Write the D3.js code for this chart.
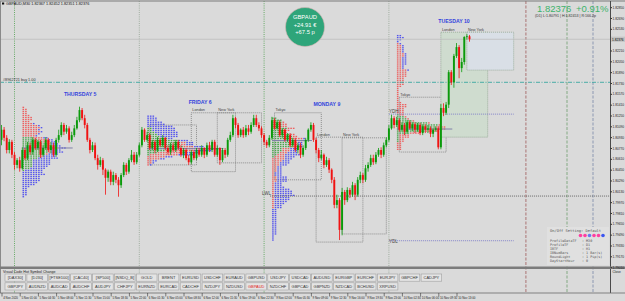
<!DOCTYPE html>
<html><head><meta charset="utf-8">
<script src="https://cdn.jsdelivr.net/npm/d3@7"></script>
<style>html,body{margin:0;padding:0;background:#dadada;overflow:hidden}svg{display:block;font-family:"Liberation Sans",Arial,sans-serif}</style>
</head><body><svg id="c" width="625" height="301"></svg>
<script>
// ---------- DATA ----------
const candles = [
[1.8089,1.8111,1.8081,1.8104],[1.8104,1.8108,1.8087,1.8092],[1.8092,1.8096,1.8069,1.8074],[1.8074,1.8090,1.8069,1.8086],[1.8086,1.8089,1.8062,1.8067],
[1.8067,1.8071,1.8045,1.8052],[1.8052,1.8062,1.8047,1.8059],[1.8059,1.8064,1.8042,1.8047],[1.8047,1.8078,1.8045,1.8074],[1.8074,1.8077,1.8059,1.8062],
[1.8062,1.8086,1.8059,1.8081],[1.8081,1.8085,1.8067,1.8071],[1.8071,1.8093,1.8067,1.8089],[1.8089,1.8092,1.8074,1.8077],[1.8077,1.8089,1.8074,1.8086],
[1.8086,1.8089,1.8062,1.8067],[1.8067,1.8081,1.8064,1.8077],[1.8077,1.8093,1.8074,1.8089],[1.8089,1.8092,1.8071,1.8074],[1.8074,1.8086,1.8069,1.8081],
[1.8081,1.8085,1.8064,1.8067],[1.8067,1.8092,1.8064,1.8089],[1.8089,1.8104,1.8085,1.8096],[1.8096,1.8115,1.8093,1.8111],[1.8111,1.8114,1.8096,1.8101],
[1.8101,1.8111,1.8098,1.8106],[1.8106,1.8109,1.8085,1.8089],[1.8089,1.8101,1.8086,1.8096],[1.8096,1.8111,1.8093,1.8106],[1.8106,1.8123,1.8104,1.8118],
[1.8118,1.8138,1.8115,1.8133],[1.8133,1.8136,1.8118,1.8121],[1.8121,1.8126,1.8106,1.8111],[1.8111,1.8114,1.8086,1.8089],[1.8089,1.8092,1.8069,1.8074],
[1.8074,1.8086,1.8071,1.8081],[1.8081,1.8085,1.8059,1.8062],[1.8062,1.8067,1.8045,1.8052],[1.8052,1.8064,1.8049,1.8059],[1.8059,1.8062,1.8037,1.8045],
[1.8045,1.8047,1.8008,1.8033],[1.8033,1.8045,1.8027,1.8042],[1.8042,1.8045,1.8022,1.8027],[1.8027,1.8042,1.8022,1.8037],[1.8037,1.8040,1.8025,1.8030],
[1.8030,1.8034,1.8005,1.8022],[1.8022,1.8040,1.8018,1.8037],[1.8037,1.8056,1.8034,1.8052],[1.8052,1.8055,1.8037,1.8042],[1.8042,1.8062,1.8039,1.8059],
[1.8059,1.8074,1.8056,1.8067],[1.8067,1.8071,1.8052,1.8056],[1.8056,1.8071,1.8053,1.8067],[1.8067,1.8085,1.8064,1.8081],[1.8081,1.8108,1.8078,1.8104],
[1.8104,1.8106,1.8086,1.8089],[1.8089,1.8101,1.8086,1.8096],[1.8096,1.8099,1.8074,1.8077],[1.8077,1.8089,1.8074,1.8086],[1.8086,1.8089,1.8069,1.8074],
[1.8074,1.8093,1.8071,1.8089],[1.8089,1.8092,1.8078,1.8081],[1.8081,1.8096,1.8078,1.8092],[1.8092,1.8093,1.8074,1.8077],[1.8077,1.8081,1.8067,1.8071],
[1.8071,1.8085,1.8067,1.8081],[1.8081,1.8085,1.8071,1.8074],[1.8074,1.8089,1.8071,1.8086],[1.8086,1.8089,1.8074,1.8077],[1.8077,1.8081,1.8064,1.8067],
[1.8067,1.8077,1.8062,1.8074],[1.8074,1.8077,1.8059,1.8062],[1.8062,1.8067,1.8052,1.8056],[1.8056,1.8074,1.8053,1.8071],[1.8071,1.8074,1.8059,1.8062],
[1.8062,1.8077,1.8059,1.8074],[1.8074,1.8077,1.8064,1.8067],[1.8067,1.8081,1.8064,1.8077],[1.8077,1.8078,1.8062,1.8067],[1.8067,1.8085,1.8064,1.8081],
[1.8081,1.8086,1.8071,1.8074],[1.8074,1.8089,1.8071,1.8086],[1.8086,1.8089,1.8064,1.8067],[1.8067,1.8081,1.8064,1.8077],[1.8077,1.8078,1.8052,1.8059],
[1.8059,1.8077,1.8056,1.8074],[1.8074,1.8077,1.8062,1.8067],[1.8067,1.8092,1.8064,1.8089],[1.8089,1.8101,1.8086,1.8096],[1.8096,1.8126,1.8093,1.8121],
[1.8121,1.8123,1.8106,1.8111],[1.8111,1.8114,1.8092,1.8096],[1.8096,1.8106,1.8093,1.8104],[1.8104,1.8108,1.8092,1.8096],[1.8096,1.8111,1.8093,1.8106],
[1.8106,1.8111,1.8096,1.8101],[1.8101,1.8115,1.8098,1.8111],[1.8111,1.8126,1.8108,1.8121],[1.8121,1.8126,1.8108,1.8111],[1.8111,1.8115,1.8102,1.8106],
[1.8106,1.8109,1.8092,1.8096],[1.8096,1.8099,1.8081,1.8086],[1.8086,1.8089,1.8077,1.8081],[1.8081,1.8096,1.8078,1.8092],[1.8092,1.8123,1.8089,1.8118],
[1.8118,1.8121,1.8104,1.8106],[1.8106,1.8118,1.8104,1.8115],[1.8115,1.8118,1.8093,1.8096],[1.8096,1.8106,1.8092,1.8104],[1.8104,1.8106,1.8086,1.8089],
[1.8089,1.8099,1.8086,1.8096],[1.8096,1.8099,1.8078,1.8081],[1.8081,1.8092,1.8078,1.8089],[1.8089,1.8092,1.8071,1.8074],[1.8074,1.8085,1.8069,1.8081],
[1.8081,1.8085,1.8062,1.8067],[1.8067,1.8081,1.8064,1.8077],[1.8077,1.8092,1.8074,1.8089],[1.8089,1.8106,1.8086,1.8104],[1.8104,1.8115,1.8101,1.8111],
[1.8111,1.8114,1.8086,1.8089],[1.8089,1.8092,1.8069,1.8074],[1.8074,1.8077,1.8056,1.8062],[1.8062,1.8074,1.8059,1.8067],[1.8067,1.8069,1.8047,1.8052],
[1.8052,1.8064,1.8049,1.8059],[1.8059,1.8062,1.8040,1.8045],[1.8045,1.8047,1.8025,1.8030],[1.8030,1.8034,1.7988,1.7993],[1.7993,1.8008,1.7988,1.8000],
[1.8000,1.8003,1.7941,1.7956],[1.7956,1.8018,1.7948,1.8012],[1.8012,1.8015,1.7993,1.8000],[1.8000,1.8019,1.7997,1.8015],[1.8015,1.8018,1.8003,1.8008],
[1.8008,1.8027,1.8005,1.8022],[1.8022,1.8025,1.8000,1.8008],[1.8008,1.8034,1.8005,1.8030],[1.8030,1.8042,1.8025,1.8037],[1.8037,1.8040,1.8025,1.8030],
[1.8030,1.8052,1.8027,1.8047],[1.8047,1.8056,1.8042,1.8052],[1.8052,1.8067,1.8049,1.8062],[1.8062,1.8067,1.8052,1.8056],[1.8056,1.8071,1.8053,1.8067],
[1.8067,1.8077,1.8064,1.8074],[1.8074,1.8078,1.8062,1.8067],[1.8067,1.8085,1.8064,1.8081],[1.8081,1.8093,1.8078,1.8089],[1.8089,1.8111,1.8086,1.8106],
[1.8106,1.8126,1.8104,1.8121],[1.8121,1.8124,1.8106,1.8111],[1.8111,1.8123,1.8108,1.8118],[1.8118,1.8121,1.8101,1.8104],[1.8104,1.8115,1.8101,1.8111],
[1.8111,1.8114,1.8096,1.8101],[1.8101,1.8118,1.8098,1.8115],[1.8115,1.8118,1.8104,1.8106],[1.8106,1.8115,1.8102,1.8112],[1.8112,1.8115,1.8099,1.8104],
[1.8104,1.8114,1.8101,1.8111],[1.8111,1.8114,1.8096,1.8099],[1.8099,1.8112,1.8096,1.8109],[1.8109,1.8112,1.8099,1.8104],[1.8104,1.8111,1.8099,1.8106],
[1.8106,1.8109,1.8093,1.8098],[1.8098,1.8106,1.8093,1.8104],[1.8104,1.8109,1.8101,1.8106],[1.8106,1.8109,1.8075,1.8078],[1.8078,1.8142,1.8075,1.8136],
[1.8136,1.8143,1.8124,1.8129],[1.8129,1.8145,1.8126,1.8141],[1.8141,1.8192,1.8136,1.8189],[1.8189,1.8192,1.8170,1.8174],[1.8174,1.8216,1.8166,1.8213],
[1.8213,1.8232,1.8210,1.8226],[1.8226,1.8229,1.8180,1.8195],[1.8195,1.8210,1.8189,1.8204],[1.8204,1.8242,1.8200,1.8241],[1.8241,1.82453,1.8237,1.8242],
[1.8242,1.8244,1.8234,1.82376]
];
const dayStarts = [5, 53, 101, 149];
const dayLabels = ["THURSDAY 5", "FRIDAY 6", "MONDAY 9", "TUESDAY 10"];
const dayLineColors = ["#5aa55a", "#98a898", "#5aa55a", "#98a898"];
const sessionNames = ["Tokyo","London","New York","Tokyo","London","New York","Tokyo","London","New York"];
const sessionStartBar = [57, 73, 83, 105, 121, 131, 153, 169, 179];
const sessionEndBar   = [75, 90, 100, 123, 139, 148, 171, 187, 197];
const sessionHigh = [1.8111, 1.8129, 1.8129, 1.8129, 1.8093, 1.8092, 1.8152, 1.8248, 1.8248];
const sessionLow  = [1.8052, 1.8042, 1.8055, 1.8030, 1.7938, 1.7950, 1.8071, 1.8093, 1.8192];
const sessionShowLabel = [false, true, true, true, true, true, true, true, true];
const sessionFill = [null, null, null, null, null, null, null, "#cfdccf", "#d9dfe6"];
const levelNames = ["LWL", "YDH", "YDL"];
const levelPrices = [1.8006, 1.8127, 1.7940];
const levelStartBar = [101, 149, 149];
const levelEndBar = [234, 197, 197];
const levelColors = ["#5a5a5a", "#7c7cc8", "#7c7cc8"];
const tradePrice = 1.8174;
const tradeLabel = "#8962721 buy 1.00";
const markerBars = [201.7, 217.5, 227.5];
const markerColors = ["#a05a5a", "#6fa06f", "#7888a8"];
const priceTicks = [1.82850,1.82690,1.82530,1.82210,1.82050,1.81890,1.81730,1.81570,1.81410,1.81250,1.81090,1.80930,1.80770,1.80610,1.80450,1.80290,1.80130,1.79970,1.79810,1.79650,1.79490,1.79330,1.79170,1.79010];
const timeTickBars = [0,7,14,21,28,35,42,49,56,63,70,77,84,91,98,105,112,119,126,133,140,147,154,161,168,175];
const timeTickLabels = ["4 Nov 2020","5 Nov 01:00","5 Nov 04:30","5 Nov 08:00","5 Nov 11:30","5 Nov 15:00","5 Nov 18:30","5 Nov 22:00","6 Nov 01:30","6 Nov 05:00","6 Nov 08:30","6 Nov 12:00","6 Nov 15:30","6 Nov 19:00","6 Nov 22:30","9 Nov 02:00","9 Nov 05:30","9 Nov 09:00","9 Nov 12:30","9 Nov 16:00","9 Nov 19:30","9 Nov 23:00","10 Nov 02:30","10 Nov 06:00","10 Nov 09:30","10 Nov 13:00"];
const buttonsRow1 = ["[DAX30]","[DJ30]","[FTSE100]","[CAC40]","[SP500]","[NSDQ_B]","GOLD","BRENT","EURUSD","USDCHF","EURAUD","GBPUSD","USDJPY","USDCAD","AUDUSD","EURGBP","EURCHF","EURJPY","GBPCHF","CADJPY"];
const buttonsRow2 = ["GBPJPY","AUDNZD","AUDCAD","AUDCHF","AUDJPY","CHFJPY","EURNZD","EURCAD","CADCHF","NZDJPY","NZDUSD","GBPAUD","NZDCHF","GBPCAD","GBPNZD","NZDCAD","BCHUSD","XRPUSD"];
const activeSymbol = "GBPAUD";
const settingKeys = ["ProfileDataTF","ProfileTF","IBTF","IBNumBars","RoundLight","DayStartHour"];
const settingValues = ["M30","D1","H1","1 Bar(s)","1 Pip(s)","0"];
const toggleColors = ["#ff3fa0","#ff3fa0","#6a78f0","#ff3fa0","#ff3fa0","#3a56f0"];
const tpoColors = ["#2f9a2f","#f04a4a","#3c3cf0"];
const tpoHourBounds = [8, 14];

// ---------- SCALES ----------
const svg = d3.select("#c");
const x = d3.scaleLinear().domain([0, 180]).range([1.5, 469.5]);
const y = d3.scaleLinear().domain([1.79012, 1.82941]).range([267, 1]);
const PR = 610, PB = 267;

svg.append("rect").attr("width",625).attr("height",301).attr("fill","#dadada");
const plot = svg.append("g");
svg.append("defs").append("clipPath").attr("id","pc").append("rect").attr("x",0).attr("y",1).attr("width",PR).attr("height",PB-1);

// session boxes
sessionNames.forEach((n,i)=>{
  const x0=x(sessionStartBar[i]), x1=x(sessionEndBar[i]), y0=y(sessionHigh[i]), y1=y(sessionLow[i]);
  plot.append("rect").attr("x",x0).attr("y",y0).attr("width",x1-x0).attr("height",y1-y0)
    .attr("fill",sessionFill[i]||"none").attr("stroke", sessionFill[i]?"#8fa48f":"#7a7a7a")
    .attr("stroke-width",0.8).attr("stroke-dasharray","1,1");
  if(sessionShowLabel[i]) plot.append("text").attr("x",x0+1).attr("y",y0-1.5).attr("font-size",3.8).attr("fill","#444").text(n);
});

// day separators & markers
dayStarts.forEach((s,i)=>{
  plot.append("line").attr("x1",x(s)).attr("x2",x(s)).attr("y1",1).attr("y2",293)
    .attr("stroke",dayLineColors[i]).attr("stroke-width",0.9).attr("stroke-dasharray","1,1.2");
});
markerBars.forEach((b,i)=>{
  plot.append("line").attr("x1",x(b)).attr("x2",x(b)).attr("y1",1).attr("y2",293)
    .attr("stroke",markerColors[i]).attr("stroke-width",0.8).attr("stroke-dasharray","3,1.5");
});

// TPO profiles computed from candles
const tpoStep = 0.0003, tpoW = 2.6;
dayStarts.forEach((s,di)=>{
  const e = di<dayStarts.length-1 ? dayStarts[di+1]-1 : candles.length-1;
  const bars = d3.range(s,e+1);
  const lo = d3.min(bars,i=>candles[i][2]), hi = d3.max(bars,i=>candles[i][1]);
  const x0 = x(s)+8;
  let best=null;
  for(let p=lo; p<=hi+1e-9; p+=tpoStep){
    const hits = bars.filter(i=>candles[i][2]<=p && candles[i][1]>=p);
    if(!best || hits.length>best.n) best={p,n:hits.length};
    hits.forEach((bi,k)=>{
      const hr = Math.floor((bi-s)/2);
      const c = hr<tpoHourBounds[0]?tpoColors[0]:(hr<tpoHourBounds[1]?tpoColors[1]:tpoColors[2]);
      plot.append("rect").attr("x",x0+k*tpoW).attr("y",y(p)-0.65).attr("width",1.6).attr("height",1.3).attr("fill",c).attr("opacity",0.85);
    });
  }
  plot.append("line").attr("x1",x0).attr("x2",x0+best.n*tpoW+6).attr("y1",y(best.p)).attr("y2",y(best.p))
    .attr("stroke","#8080a8").attr("stroke-width",1);
});

// levels
levelNames.forEach((n,i)=>{
  const yy=y(levelPrices[i]);
  const xs = x(levelStartBar[i]);
  plot.append("line").attr("x1",xs+(i===0?6:0)).attr("x2",Math.min(PR,x(levelEndBar[i]))).attr("y1",yy).attr("y2",yy)
    .attr("stroke",levelColors[i]).attr("stroke-width",0.9).attr("stroke-dasharray","1,1");
  plot.append("text").attr("x",i===0?xs-2:xs).attr("y",i===2?yy+2:yy-1).attr("font-size",4.5).attr("fill","#444").text(n);
});

// bid line and trade line
const last = candles[candles.length-1];
plot.append("line").attr("x1",0).attr("x2",PR).attr("y1",y(last[3])).attr("y2",y(last[3])).attr("stroke","#bcbcbc").attr("stroke-width",0.8);
plot.append("line").attr("x1",0).attr("x2",PR).attr("y1",y(tradePrice)).attr("y2",y(tradePrice))
  .attr("stroke","#3aa8a0").attr("stroke-width",0.9).attr("stroke-dasharray","4,1.5,1,1.5");
plot.append("text").attr("x",3).attr("y",y(tradePrice)-1.2).attr("font-size",3.8).attr("fill","#333").text(tradeLabel);

// candles
const cg = plot.append("g").attr("clip-path","url(#pc)");
candles.forEach((d,i)=>{
  const up = d[3]>=d[0], col = up?"#0a9a0a":"#f01212";
  cg.append("line").attr("x1",x(i)).attr("x2",x(i)).attr("y1",y(d[1])).attr("y2",y(d[2])).attr("stroke",col).attr("stroke-width",0.8);
  const top=y(Math.max(d[0],d[3])), h=Math.max(0.8,Math.abs(y(d[0])-y(d[3])));
  cg.append("rect").attr("x",x(i)-0.95).attr("y",top).attr("width",1.9).attr("height",h).attr("fill",col);
});

// day labels
dayStarts.forEach((s,di)=>{
  const e = di<dayStarts.length-1 ? dayStarts[di+1]-1 : candles.length-1;
  const hi = d3.max(d3.range(s,e+1),i=>candles[i][1]);
  plot.append("text").attr("x",x(s+19)).attr("y",y(hi)-11).attr("font-size",5.2).attr("font-weight","bold")
    .attr("fill","#3344dd").text(dayLabels[di]);
});

// frame
svg.append("line").attr("x1",0).attr("x2",625).attr("y1",1).attr("y2",1).attr("stroke","#7a7a7a").attr("stroke-width",1);
svg.append("line").attr("x1",0.5).attr("x2",0.5).attr("y1",1).attr("y2",293).attr("stroke","#8a8a8a").attr("stroke-width",1);
svg.append("line").attr("x1",PR+0.5).attr("x2",PR+0.5).attr("y1",1).attr("y2",293).attr("stroke","#4a4a4a").attr("stroke-width",1);
svg.append("rect").attr("x",0).attr("y",266.5).attr("width",625).attr("height",2.5).attr("fill","#7c7c7c");

// price axis
const ax = svg.append("g").attr("transform",`translate(${PR+0.5},0)`)
  .call(d3.axisRight(y).tickValues(priceTicks).tickFormat(d3.format(".5f")).tickSize(1.5).tickPadding(0.5));
ax.select(".domain").remove();
ax.selectAll("text").attr("font-size",3.2).attr("fill","#222").attr("font-family","Liberation Sans, Arial");
ax.selectAll("line").attr("stroke","#333");
svg.append("rect").attr("x",PR+1).attr("y",y(last[3])-2.6).attr("width",14).attr("height",5.2).attr("fill","#c4c4c4");
svg.append("text").attr("x",PR+2).attr("y",y(last[3])+1.3).attr("font-size",3.2).attr("fill","#000").text(d3.format(".5f")(last[3]));

// top-left title
svg.append("rect").attr("x",2).attr("y",2.5).attr("width",2.2).attr("height",2).attr("fill","#111");
svg.append("text").attr("x",6).attr("y",5).attr("font-size",3.8).attr("fill","#111").text("GBPAUD,M30  1.82367 1.82452 1.82351 1.82376");

// top-right quote
svg.append("text").attr("x",537).attr("y",12).attr("font-size",9.5).attr("fill","#3cb36a").text("1.82376");
svg.append("text").attr("x",576).attr("y",12).attr("font-size",9.5).attr("fill","#3cb36a").text("+0.91%");
svg.append("text").attr("x",535).attr("y",16.5).attr("font-size",3.6).attr("fill","#333").text("(D1) L:1.80791 | H:1.82453 | R:166.2p");

// P/L bubble
svg.append("circle").attr("cx",305).attr("cy",27).attr("r",19.5).attr("fill","#2ea57a").attr("stroke","#d9b3b3").attr("stroke-width",0.6);
[["GBPAUD",19],["+24.91 €",26.5],["+67.5 p",34]].forEach(t=>{
  svg.append("text").attr("x",305).attr("y",t[1]).attr("text-anchor","middle").attr("font-size",5.8).attr("fill","#fff").text(t[0]);
});

// settings panel
svg.append("rect").attr("x",547).attr("y",227).attr("width",62).attr("height",38).attr("fill","#e0e0e0");
svg.append("text").attr("x",550).attr("y",232).attr("font-size",3.7).attr("font-family","DejaVu Sans Mono, monospace").attr("fill","#555").text("On/Off Setting: Default");
toggleColors.forEach((c,i)=>svg.append("circle").attr("cx",580.5+i*4.5).attr("cy",235.5).attr("r",1.8).attr("fill",c));
settingKeys.forEach((k,i)=>{
  const yy=241.5+i*4;
  svg.append("text").attr("x",550).attr("y",yy).attr("font-size",3.4).attr("font-family","DejaVu Sans Mono, monospace").attr("fill","#555").text(k);
  svg.append("text").attr("x",582).attr("y",yy).attr("font-size",3.4).attr("font-family","DejaVu Sans Mono, monospace").attr("fill","#555").text(": "+settingValues[i]);
});

// sub-window
svg.append("line").attr("x1",0).attr("x2",625).attr("y1",293).attr("y2",293).attr("stroke","#6a6a6a").attr("stroke-width",0.8);
svg.append("text").attr("x",3).attr("y",272.5).attr("font-size",3.6).attr("fill","#222").text("Visual Code Hot Symbol Change");
svg.append("text").attr("x",612.5).attr("y",273).attr("font-size",3.2).attr("fill","#222").text("Close");
function buttons(list,yy){
  list.forEach((b,i)=>{
    const bx=5+i*21.9;
    svg.append("rect").attr("x",bx).attr("y",yy).attr("width",20.6).attr("height",7.2).attr("fill","#e4e4e4").attr("stroke","#a0a0a0").attr("stroke-width",0.6);
    svg.append("text").attr("x",bx+10.3).attr("y",yy+5).attr("text-anchor","middle").attr("font-size",4).attr("fill",b===activeSymbol?"#e02020":"#333").text(b);
  });
}
buttons(buttonsRow1,274);
buttons(buttonsRow2,282.8);

// time axis
const tx = svg.append("g").attr("transform","translate(0,293)")
  .call(d3.axisBottom(x).tickValues(timeTickBars).tickFormat((d,i)=>timeTickLabels[i]).tickSize(3.5).tickPadding(0));
tx.select(".domain").remove();
tx.selectAll("line").attr("stroke","#333").attr("stroke-width",0.6);
tx.selectAll("text").attr("text-anchor","start").attr("dx",1.2).attr("dy",0).attr("y",6).attr("font-size",2.9).attr("fill","#222").attr("font-family","Liberation Sans, Arial");
</script>
</body></html>
